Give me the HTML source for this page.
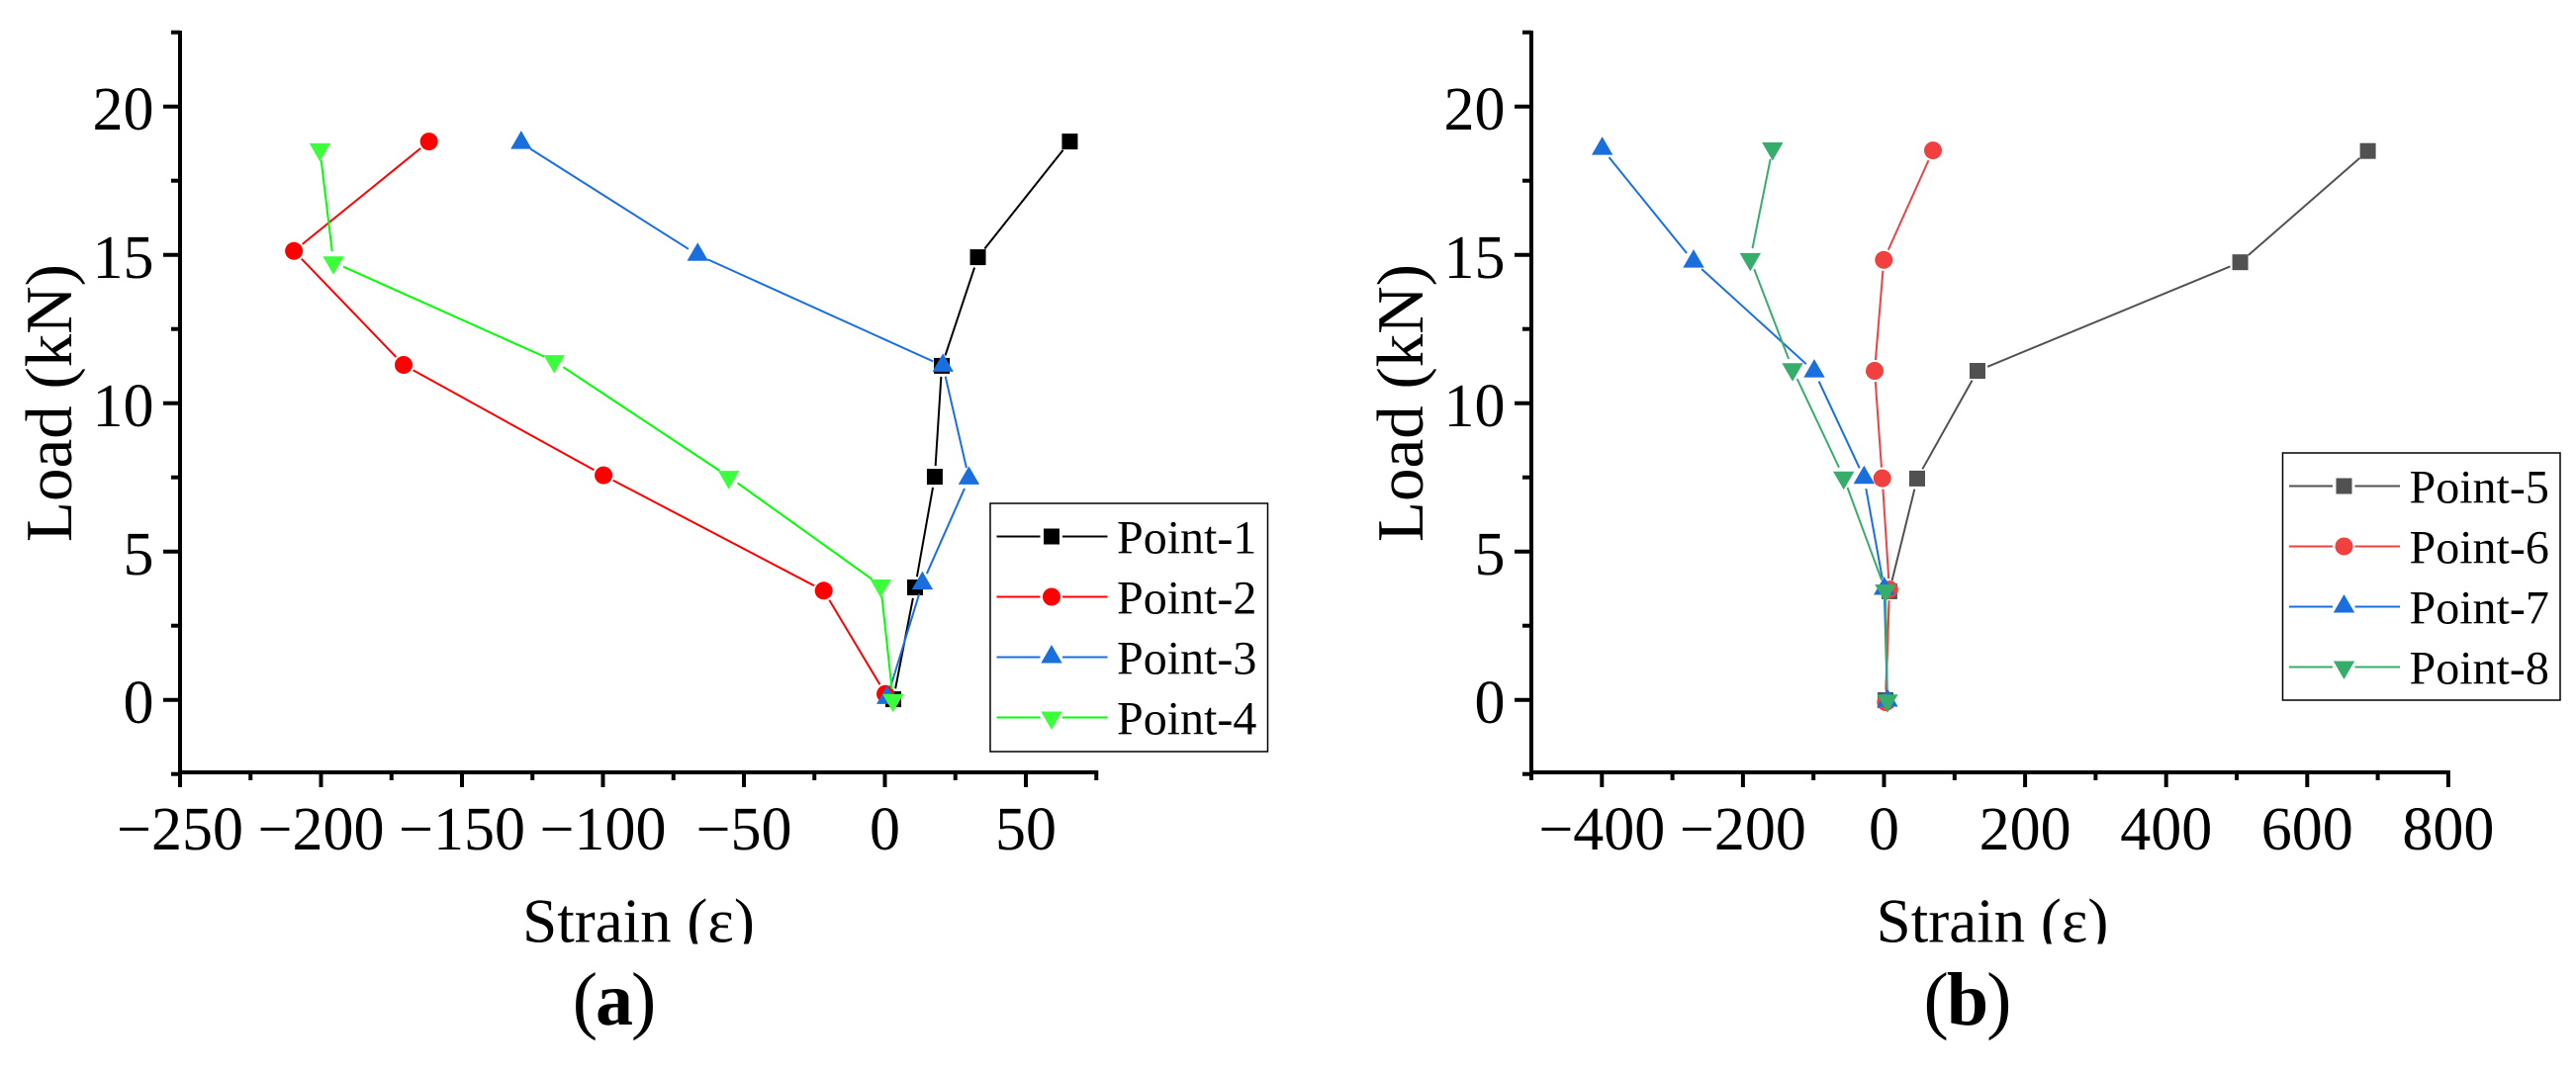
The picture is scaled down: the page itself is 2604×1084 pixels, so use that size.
<!DOCTYPE html>
<html lang="en">
<head>
<meta charset="utf-8">
<title>Load-strain curves</title>
<style>
html,body{margin:0;padding:0;background:#fff;}
svg{display:block;}
text{font-family:"Liberation Serif","Noto Serif CJK SC",serif;fill:#000;}
</style>
</head>
<body>
<svg id="figure" xmlns="http://www.w3.org/2000/svg" width="2604" height="1084" viewBox="0 0 2604 1084">
  <defs>
    <clipPath id="title-clip-a"><rect x="480" y="880" width="400" height="74.5"/></clipPath>
    <clipPath id="title-clip-b"><rect x="1850" y="880" width="400" height="74.5"/></clipPath>
  </defs>
  <g id="panel-a"></g>
  <g id="panel-b"></g>
  <text x="620" y="1036" font-size="76" letter-spacing="-2" text-anchor="middle">(<tspan font-weight="bold">a</tspan>)</text>
  <text x="1988" y="1036" font-size="76" letter-spacing="-2" text-anchor="middle">(<tspan font-weight="bold">b</tspan>)</text>
</svg>
<script>
// Panel (a) data
const loadA1 = [18.82, 14.92, 11.26, 7.52, 3.79, 0.02];
const strainA1 = [65.6, 33, 20.2, 17.7, 10.7, 3];
const loadA2 = [18.82, 15.13, 11.29, 7.57, 3.68, 0.2];
const strainA2 = [-161.7, -209.6, -170.7, -99.8, -21.7, 0.2];
const loadA3 = [18.77, 15, 11.26, 7.46, 3.92, 0.06];
const strainA3 = [-129, -66.4, 20.6, 29.8, 13.3, 0.8];
const loadA4 = [18.56, 14.75, 11.42, 7.52, 3.86, 0];
const strainA4 = [-200.4, -195.6, -117.3, -55.4, -1.5, 2.9];
// Panel (b) data
const loadB5 = [18.5, 14.75, 11.09, 7.46, 3.66, -0.01];
const strainB5 = [686, 505, 132.5, 47, 7.6, 2.1];
const loadB6 = [18.52, 14.83, 11.09, 7.47, 3.72, -0.08];
const strainB6 = [69.4, -0.3, -13.3, -2.5, 7.6, 2.5];
const loadB7 = [18.57, 14.77, 11.07, 7.48, 3.74, -0.03];
const strainB7 = [-399.5, -270, -98.9, -28.3, 0.3, 4.8];
const loadB8 = [18.59, 14.86, 11.15, 7.5, 3.69, -0.02];
const strainB8 = [-158, -189.6, -129.7, -57.2, 2, 4.8];
// Tick labels
const yTickValues = [0, 5, 10, 15, 20];
const yMinorValues = [-2.5, 2.5, 7.5, 12.5, 17.5, 22.5];
const xTickValuesA = [-250, -200, -150, -100, -50, 0, 50];
const xMinorValuesA = [-225, -175, -125, -75, -25, 25, 75];
const xTickValuesB = [-400, -200, 0, 200, 400, 600, 800];
const xMinorValuesB = [-500, -300, -100, 100, 300, 500, 700];
const legendNamesA = ["Point-1", "Point-2", "Point-3", "Point-4"];
const legendNamesB = ["Point-5", "Point-6", "Point-7", "Point-8"];

const SVG_NS = "http://www.w3.org/2000/svg";

function make(parent, tag, attrs, content) {
  const node = document.createElementNS(SVG_NS, tag);
  for (const key in attrs) node.setAttribute(key, attrs[key]);
  if (content !== undefined) node.textContent = content;
  parent.appendChild(node);
  return node;
}

function fmt(v) {
  return v < 0 ? "\u2212" + Math.abs(v) : String(v);
}

function drawMarker(parent, kind, cx, cy, color) {
  let node;
  if (kind === "square") {
    node = make(parent, "rect", { x: cx - 8, y: cy - 8, width: 16, height: 16, fill: color });
  } else if (kind === "circle") {
    node = make(parent, "circle", { cx: cx, cy: cy, r: 9, fill: color });
  } else if (kind === "up") {
    node = make(parent, "polygon", { points: `${cx},${cy - 12.5} ${cx + 10.7},${cy + 6} ${cx - 10.7},${cy + 6}`, fill: color });
  } else {
    node = make(parent, "polygon", { points: `${cx - 10.7},${cy - 6} ${cx + 10.7},${cy - 6} ${cx},${cy + 12.5}`, fill: color });
  }
  return node;
}

function drawPanel(panel) {
  const root = document.getElementById(panel.id);
  const xPos = v => panel.xZero + v * panel.xScale;
  const yPos = v => 707.7 - v * 30;
  const axisLeft = xPos(panel.xMin);
  const axisRight = xPos(panel.xMax);

  // Series
  panel.series.forEach(s => {
    const group = make(root, "g", {});
    
    
    const xs = s.strain.map(xPos);
    const ys = s.load.map(yPos);
    for (let i = 0; i < xs.length - 1; i++) {
      const dx = xs[i + 1] - xs[i];
      const dy = ys[i + 1] - ys[i];
      const len = Math.hypot(dx, dy);
      const gap = 11;
      if (len <= gap * 2) continue;
      const ux = dx / len;
      const uy = dy / len;
      const seg = make(group, "line", {
        x1: xs[i] + ux * gap, y1: ys[i] + uy * gap,
        x2: xs[i + 1] - ux * gap, y2: ys[i + 1] - uy * gap,
        stroke: s.line, "stroke-width": 2
      });
      
      
    }
    xs.forEach((x, i) => {
      const mark = drawMarker(group, s.marker, x, ys[i], s.fill);
      
      
    });
  });

  // Axes
  const yAxis = make(root, "line", { x1: axisLeft, y1: 31, x2: axisLeft, y2: 783, stroke: "#000", "stroke-width": 4 });
  
  
  const xAxis = make(root, "line", { x1: axisLeft - 2, y1: 781, x2: axisRight + 2, y2: 781, stroke: "#000", "stroke-width": 4 });
  
  

  yTickValues.forEach(v => {
    const t = make(root, "line", { x1: axisLeft - 17, y1: yPos(v), x2: axisLeft, y2: yPos(v), stroke: "#000", "stroke-width": 4 });
    
    
    const label = make(root, "text", { x: axisLeft - 26.5, y: yPos(v) + 23.5, "font-size": 62, "text-anchor": "end" }, fmt(v));
    
    
  });
  yMinorValues.forEach(v => {
    const t = make(root, "line", { x1: axisLeft - 9, y1: yPos(v), x2: axisLeft, y2: yPos(v), stroke: "#000", "stroke-width": 4 });
    
    
  });
  panel.xTicks.forEach(v => {
    const t = make(root, "line", { x1: xPos(v), y1: 781, x2: xPos(v), y2: 796, stroke: "#000", "stroke-width": 4 });
    
    
    const label = make(root, "text", { x: xPos(v), y: 859, "font-size": 62, "text-anchor": "middle" }, fmt(v));
    
    
  });
  panel.xMinor.forEach(v => {
    const t = make(root, "line", { x1: xPos(v), y1: 781, x2: xPos(v), y2: 789, stroke: "#000", "stroke-width": 4 });
    
    
  });

  // Titles
  const xTitle = make(root, "text", { x: panel.xTitleX, y: 952.5, "font-size": 63, "text-anchor": "middle", "clip-path": `url(#${panel.clip})` }, "Strain (\u03b5)");
  
  
  const yTitle = make(root, "text", { transform: `translate(${panel.yTitleX},407.5) rotate(-90)`, "font-size": 67, "text-anchor": "middle" }, "Load (kN)");
  
  

  // Legend
  const L = panel.legend;
  const legend = make(root, "g", {});
  
  
  const frame = make(legend, "rect", { x: L.x, y: L.y, width: L.w, height: L.h, fill: "#fff", stroke: "#000", "stroke-width": 1.5 });
  
  
  panel.series.forEach((s, i) => {
    const y = L.y + 33.5 + i * 61;
    const entry = make(legend, "g", {});
    
    
    make(entry, "line", { x1: L.x + 6.5, y1: y, x2: L.x + 50.5, y2: y, stroke: s.line, "stroke-width": 2 });
    make(entry, "line", { x1: L.x + 73, y1: y, x2: L.x + 118.5, y2: y, stroke: s.line, "stroke-width": 2 });
    drawMarker(entry, s.marker, L.x + 62, y, s.fill);
    const label = make(entry, "text", { x: L.x + 128, y: y + 17, "font-size": 48 }, s.name);
    
    
  });
}

drawPanel({
  id: "panel-a", xZero: 894.5, xScale: 2.85, xMin: -250, xMax: 75,
  xTicks: xTickValuesA, xMinor: xMinorValuesA,
  xTitleX: 645.5, yTitleX: 72, clip: "title-clip-a",
  legend: { x: 1001, y: 509, w: 280.5, h: 251 },
  series: [
    { name: legendNamesA[0], strain: strainA1, load: loadA1, marker: "square", line: "#000000", fill: "#000000" },
    { name: legendNamesA[1], strain: strainA2, load: loadA2, marker: "circle", line: "#ff0000", fill: "#ff0000" },
    { name: legendNamesA[2], strain: strainA3, load: loadA3, marker: "up", line: "#1a6fdf", fill: "#1a6fdf" },
    { name: legendNamesA[3], strain: strainA4, load: loadA4, marker: "down", line: "#00ff00", fill: "#3cff3c" }
  ]
});

drawPanel({
  id: "panel-b", xZero: 1904.5, xScale: 0.713, xMin: -500, xMax: 800,
  xTicks: xTickValuesB, xMinor: xMinorValuesB,
  xTitleX: 2014, yTitleX: 1438, clip: "title-clip-b",
  legend: { x: 2307.5, y: 458, w: 280.5, h: 250 },
  series: [
    { name: legendNamesB[0], strain: strainB5, load: loadB5, marker: "square", line: "#515151", fill: "#515151" },
    { name: legendNamesB[1], strain: strainB6, load: loadB6, marker: "circle", line: "#f14040", fill: "#f14040" },
    { name: legendNamesB[2], strain: strainB7, load: loadB7, marker: "up", line: "#1a6fdf", fill: "#1a6fdf" },
    { name: legendNamesB[3], strain: strainB8, load: loadB8, marker: "down", line: "#37ad6b", fill: "#37ad6b" }
  ]
});
</script>
</body>
</html>
